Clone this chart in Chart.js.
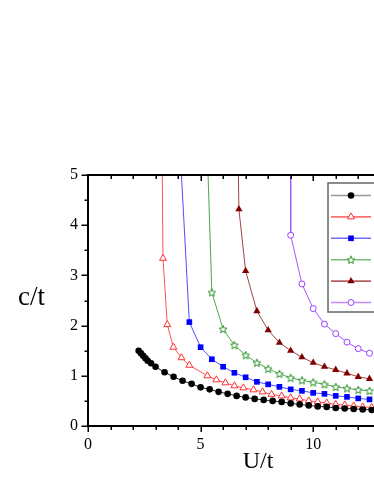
<!DOCTYPE html>
<html>
<head>
<meta charset="utf-8">
<script src="https://cdn.jsdelivr.net/npm/chart.js@4.4.1/dist/chart.umd.min.js"></script>
<style>
  body { margin: 0; background: #fff; }
  #wrap { width: 374px; height: 484px; }
</style>
</head>
<body>
<div id="wrap"><canvas id="chart" width="374" height="484"></canvas></div>
<script>
// values (U/t on x, c/t on y)
// first point of each curve past the black one sits above the top edge, so the line runs out of the frame
const blackU = [2.25, 2.35, 2.45, 2.55, 2.65, 2.8, 3.0, 3.4, 3.8, 4.2, 4.6, 5.0, 5.4, 5.8, 6.2, 6.6, 7.0, 7.4, 7.8, 8.2, 8.6, 9.0, 9.4, 9.8, 10.2, 10.6, 11.0, 11.4, 11.8, 12.2, 12.6];
const blackC = [1.50, 1.45, 1.40, 1.35, 1.30, 1.25, 1.18, 1.07, 0.98, 0.90, 0.84, 0.77, 0.73, 0.68, 0.64, 0.60, 0.57, 0.54, 0.52, 0.50, 0.48, 0.45, 0.43, 0.41, 0.39, 0.38, 0.36, 0.35, 0.34, 0.33, 0.32];

const redU = [3.28, 3.33, 3.52, 3.79, 4.15, 4.5, 5.3, 5.7, 6.1, 6.5, 6.9, 7.35, 7.75, 8.15, 8.6, 9.0, 9.4, 9.8, 10.2, 10.6, 11.0, 11.4, 11.8, 12.2, 12.6];
const redC = [6.0, 3.34, 2.02, 1.57, 1.36, 1.21, 1.00, 0.92, 0.86, 0.80, 0.76, 0.72, 0.68, 0.63, 0.60, 0.56, 0.54, 0.50, 0.48, 0.46, 0.43, 0.42, 0.40, 0.38, 0.37];

const blueU = [4.03, 4.5, 5.0, 5.5, 6.0, 6.5, 7.0, 7.5, 8.0, 8.5, 9.0, 9.5, 10.0, 10.5, 11.0, 11.5, 12.0, 12.5];
const blueC = [6.0, 2.07, 1.57, 1.33, 1.18, 1.06, 0.97, 0.88, 0.83, 0.78, 0.73, 0.70, 0.66, 0.64, 0.60, 0.58, 0.55, 0.53];

const greenU = [5.26, 5.5, 6.0, 6.5, 7.0, 7.5, 8.0, 8.5, 9.0, 9.5, 10.0, 10.5, 11.0, 11.5, 12.0, 12.5];
const greenC = [6.0, 2.66, 1.93, 1.61, 1.41, 1.26, 1.14, 1.04, 0.96, 0.91, 0.87, 0.83, 0.78, 0.75, 0.72, 0.70];

const maroonU = [6.65, 6.7, 7.0, 7.5, 8.0, 8.5, 9.0, 9.5, 10.0, 10.5, 11.0, 11.5, 12.0, 12.5];
const maroonC = [6.0, 4.32, 3.09, 2.29, 1.91, 1.66, 1.50, 1.37, 1.26, 1.18, 1.12, 1.05, 0.98, 0.94];

const purpleU = [9.0, 9.0, 9.5, 10.0, 10.5, 11.0, 11.5, 12.0, 12.5];
const purpleC = [6.0, 3.80, 2.83, 2.34, 2.03, 1.84, 1.67, 1.54, 1.45];

const xTicks = [0, 5, 10];
const yTicks = [0, 1, 2, 3, 4, 5];

const serif = '"Liberation Serif", "Times New Roman", serif';

// open five pointed star for the green curve
function makeStar(color) {
  let c = document.createElement('canvas');
  c.width = 10; c.height = 10;
  let g = c.getContext('2d');
  g.beginPath();
  for (let i = 0; i < 10; i++) {
    let r = i % 2 ? 1.8 : 4.1;
    let a = -Math.PI / 2 + i * Math.PI / 5;
    g.lineTo(5 + r * Math.cos(a), 5.4 + r * Math.sin(a));
  }
  g.closePath();
  g.fillStyle = '#fff';
  g.fill();
  g.strokeStyle = color;
  g.lineWidth = 1;
  g.stroke();
  return c;
}

function pts(us, cs) {
  return us.map((u, i) => ({ x: u, y: cs[i] }));
}

function series(label, us, cs, line, legendLine, marker) {
  return Object.assign({
    label: label,
    data: pts(us, cs),
    showLine: true,
    borderColor: line,
    borderWidth: 1,
    tension: 0,
    clip: 0,
    legendLine: legendLine,
    pointHoverRadius: 0
  }, marker);
}

const datasets = [
  series('1', blackU, blackC, '#222', '#999', { pointStyle: 'circle', pointRadius: 3.3, pointBackgroundColor: '#000', pointBorderColor: '#000', pointBorderWidth: 0 }),
  series('2', redU, redC, '#ff5050', '#ff7070', { pointStyle: 'triangle', pointRadius: 4, pointBackgroundColor: '#fff', pointBorderColor: '#ff3030', pointBorderWidth: 1 }),
  series('3', blueU, blueC, '#4f4fff', '#7070ff', { pointStyle: 'rect', pointRadius: 4, pointBackgroundColor: '#0000ff', pointBorderColor: '#0000ff', pointBorderWidth: 0 }),
  series('4', greenU, greenC, '#4ca64c', '#77bb77', { pointStyle: makeStar('#2a922a'), pointRadius: 4 }),
  series('5', maroonU, maroonC, '#a04545', '#b56060', { pointStyle: 'triangle', pointRadius: 4.2, pointBackgroundColor: '#800000', pointBorderColor: '#800000', pointBorderWidth: 0 }),
  series('6', purpleU, purpleC, '#a855ff', '#c08cff', { pointStyle: 'circle', pointRadius: 3, pointBackgroundColor: '#fff', pointBorderColor: '#9c3cff', pointBorderWidth: 1 })
];

// top axis, minor ticks, axis titles and the boxed legend
const frame = {
  id: 'frame',
  afterDraw(chart) {
    let ctx = chart.ctx;
    let a = chart.chartArea;
    let xs = chart.scales.x, ys = chart.scales.y;
    ctx.save();
    ctx.strokeStyle = '#000';

    // top axis line
    ctx.lineWidth = 2;
    ctx.beginPath();
    ctx.moveTo(a.left - 1, a.top);
    ctx.lineTo(a.right, a.top);
    ctx.stroke();

    ctx.lineWidth = 1.5;
    ctx.beginPath();
    for (let v = 0; v <= 12.7; v += 1) {
      let px = Math.round(xs.getPixelForValue(v)) + 0.25;
      let major = xTicks.includes(v);
      // bottom, outward
      ctx.moveTo(px, a.bottom);
      ctx.lineTo(px, a.bottom + (major ? 6 : 4));
      // top, inward
      ctx.moveTo(px, a.top);
      ctx.lineTo(px, a.top + (major ? 6 : 4));
    }
    for (let v = 0; v <= 5; v += 0.5) {
      let py = Math.round(ys.getPixelForValue(v)) + 0.25;
      let major = yTicks.includes(v);
      ctx.moveTo(a.left, py);
      ctx.lineTo(a.left - (major ? 6.5 : 3.5), py);
    }
    ctx.stroke();

    // axis titles
    ctx.fillStyle = '#000';
    ctx.textBaseline = 'middle';
    ctx.textAlign = 'left';
    ctx.font = '27px ' + serif;
    ctx.fillText('c/t', 18, ys.getPixelForValue(2.55));
    ctx.textAlign = 'center';
    ctx.font = '24px ' + serif;
    ctx.fillText('U/t', xs.getPixelForValue(7.55), 462);

    // legend box (runs off the right edge like the original)
    let lx = a.right - 46, ly = a.top + 8, lh = 129;
    ctx.fillStyle = '#fff';
    ctx.fillRect(lx, ly, 60, lh);
    ctx.strokeStyle = '#666';
    ctx.lineWidth = 1.5;
    ctx.strokeRect(lx, ly, 60, lh);
    chart.data.datasets.forEach((ds, i) => {
      let y = ly + 12.5 + i * 21.4;
      ctx.strokeStyle = ds.legendLine;
      ctx.lineWidth = 1.6;
      ctx.beginPath();
      ctx.moveTo(lx + 3, y);
      ctx.lineTo(lx + 43, y);
      ctx.stroke();
      ctx.fillStyle = ds.pointBackgroundColor || '#fff';
      ctx.strokeStyle = ds.pointBorderColor || '#000';
      ctx.lineWidth = ds.pointBorderWidth || 0;
      Chart.helpers.drawPoint(ctx, {
        pointStyle: ds.pointStyle,
        radius: ds.pointRadius,
        borderWidth: ds.pointBorderWidth || 0,
        rotation: 0
      }, lx + 23, y);
    });
    ctx.restore();
  }
};

const tickFont = { family: serif, size: 16 };

new Chart(document.getElementById('chart'), {
  type: 'scatter',
  data: { datasets: datasets },
  options: {
    responsive: false,
    devicePixelRatio: 1,
    animation: false,
    events: [],
    layout: { autoPadding: false, padding: { top: 175, left: 0, right: 0, bottom: 0 } },
    plugins: { legend: { display: false }, tooltip: { enabled: false } },
    scales: {
      x: {
        type: 'linear',
        min: 0,
        max: 12.7,
        grid: { display: false, drawTicks: false },
        border: { display: true, color: '#000', width: 2 },
        ticks: {
          stepSize: 5,
          autoSkip: false,
          maxRotation: 0,
          padding: 9,
          color: '#000',
          font: tickFont,
          callback: v => (xTicks.includes(v) ? String(v) : '')
        },
        afterFit: s => { s.height = 58; s.paddingRight = 0; s.paddingLeft = 0; }
      },
      y: {
        min: 0,
        max: 5,
        grid: { display: false, drawTicks: false },
        border: { display: true, color: '#000', width: 2 },
        ticks: {
          stepSize: 1,
          padding: 10,
          color: '#000',
          font: tickFont,
          callback: v => (yTicks.includes(v) ? String(v) : '')
        },
        afterFit: s => { s.width = 88; s.paddingTop = 0; s.paddingBottom = 0; }
      }
    }
  },
  plugins: [frame]
});
</script>
</body>
</html>
